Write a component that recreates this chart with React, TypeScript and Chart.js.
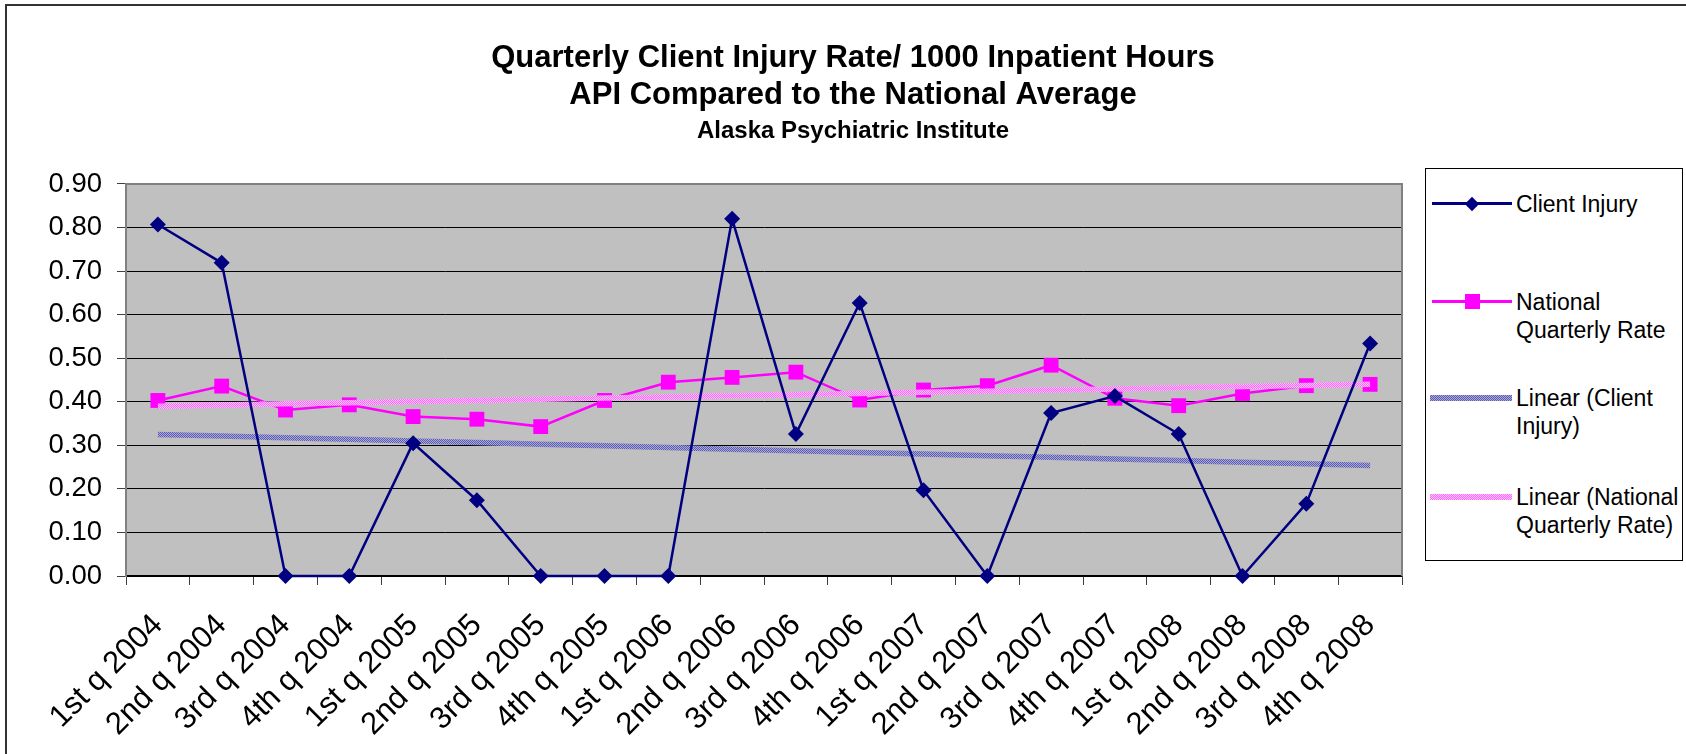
import React, { useEffect, useRef } from 'react';
import { Chart, registerables } from 'chart.js';

Chart.register(...registerables);

const quarters = [
  '1st q 2004', '2nd q 2004', '3rd q 2004', '4th q 2004',
  '1st q 2005', '2nd q 2005', '3rd q 2005', '4th q 2005',
  '1st q 2006', '2nd q 2006', '3rd q 2006', '4th q 2006',
  '1st q 2007', '2nd q 2007', '3rd q 2007', '4th q 2007',
  '1st q 2008', '2nd q 2008', '3rd q 2008', '4th q 2008',
];

const clientInjury = [
  0.807, 0.719, 0.0, 0.0, 0.305, 0.174, 0.0, 0.0, 0.0, 0.82,
  0.326, 0.627, 0.197, 0.0, 0.374, 0.413, 0.326, 0.0, 0.166, 0.534,
];

const nationalRate = [
  0.403, 0.436, 0.381, 0.393, 0.366, 0.36, 0.343, 0.403, 0.445, 0.456,
  0.468, 0.404, 0.427, 0.437, 0.484, 0.408, 0.391, 0.419, 0.437, 0.44,
];

const yTickLabels = ['0.00', '0.10', '0.20', '0.30', '0.40', '0.50', '0.60', '0.70', '0.80', '0.90'];

const seriesNames = [
  'Client Injury',
  'National Quarterly Rate',
  'Linear (Client Injury)',
  'Linear (National Quarterly Rate)',
];

const legendLines = [
  ['Client Injury'],
  ['National', 'Quarterly Rate'],
  ['Linear (Client', 'Injury)'],
  ['Linear (National', 'Quarterly Rate)'],
];

const titleLines = [
  'Quarterly Client Injury Rate/ 1000 Inpatient Hours',
  'API Compared to the National Average',
];
const subtitleText = 'Alaska Psychiatric Institute';

// least-squares linear trend (Excel "Linear" trendline)
function linearTrend(values: number[]): number[] {
  const n = values.length;
  let sx = 0, sy = 0, sxx = 0, sxy = 0;
  values.forEach((y, i) => {
    const x = i + 1;
    sx += x; sy += y; sxx += x * x; sxy += x * y;
  });
  const slope = (n * sxy - sx * sy) / (n * sxx - sx * sx);
  const icpt = (sy - slope * sx) / n;
  return values.map((_, i) => icpt + slope * (i + 1));
}

const FONT = '"Liberation Sans", Arial, Helvetica, sans-serif';

function makePattern(ctx: CanvasRenderingContext2D, c1: string, c2: string) {
  const cv = document.createElement('canvas');
  cv.width = 2;
  cv.height = 2;
  const p = cv.getContext('2d')!;
  p.fillStyle = c1;
  p.fillRect(0, 0, 2, 2);
  p.fillStyle = c2;
  p.fillRect(0, 0, 1, 1);
  p.fillRect(1, 1, 1, 1);
  return ctx.createPattern(cv, 'repeat');
}

const plotFrame = {
  id: 'plotFrame',
  beforeDraw(chart: any) {
    const { ctx, chartArea: a } = chart;
    ctx.save();
    ctx.fillStyle = '#C0C0C0';
    ctx.fillRect(a.left, a.top, a.right - a.left, a.bottom - a.top);
    ctx.restore();
  },
  beforeDatasetsDraw(chart: any) {
    const { ctx, chartArea: a } = chart;
    ctx.save();
    ctx.strokeStyle = '#808080';
    ctx.lineWidth = 2;
    ctx.beginPath();
    ctx.moveTo(a.left, a.bottom);
    ctx.lineTo(a.left, a.top);
    ctx.lineTo(a.right, a.top);
    ctx.lineTo(a.right, a.bottom);
    ctx.stroke();
    ctx.restore();
  },
};

const clientHatch = 'repeating-conic-gradient(#5c5cae 0% 25%, #a9a9da 0% 50%) 0 0 / 2px 2px';
const nationalHatch = 'repeating-conic-gradient(#ff66ff 0% 25%, #ffc4ff 0% 50%) 0 0 / 2px 2px';

function LegendSample({ kind }: { kind: number }) {
  const base: React.CSSProperties = { position: 'absolute', left: 6, width: 80 };
  if (kind === 0) {
    return (
      <>
        <div style={{ ...base, top: -1.25, height: 2.5, background: '#000080' }} />
        <div
          style={{
            position: 'absolute',
            left: 46 - 6,
            top: -6,
            width: 12,
            height: 12,
            background: '#000080',
            transform: 'rotate(45deg) scale(0.84)',
          }}
        />
      </>
    );
  }
  if (kind === 1) {
    return (
      <>
        <div style={{ ...base, top: -1.25, height: 2.5, background: '#FF00FF' }} />
        <div
          style={{
            position: 'absolute',
            left: 46 - 7.5,
            top: -7.5,
            width: 15,
            height: 15,
            background: '#FF00FF',
          }}
        />
      </>
    );
  }
  return (
    <div
      style={{
        ...base,
        left: 4,
        width: 82,
        top: -3,
        height: 6,
        background: kind === 2 ? clientHatch : nationalHatch,
      }}
    />
  );
}

export default function App() {
  const canvasRef = useRef<HTMLCanvasElement | null>(null);

  useEffect(() => {
    const canvas = canvasRef.current!;
    const ctx = canvas.getContext('2d')!;
    const clientPattern = makePattern(ctx, '#a9a9da', '#5c5cae');
    const nationalPattern = makePattern(ctx, '#ffc4ff', '#ff66ff');

    const chart = new Chart(canvas, {
      type: 'line',
      data: {
        labels: quarters,
        datasets: [
          {
            label: seriesNames[0],
            data: clientInjury,
            borderColor: '#000080',
            backgroundColor: '#000080',
            borderWidth: 2.5,
            pointStyle: 'rectRot',
            pointRadius: 8,
            pointBorderWidth: 0,
            pointBackgroundColor: '#000080',
            tension: 0,
            clip: false,
            order: 0,
          },
          {
            label: seriesNames[1],
            data: nationalRate,
            borderColor: '#FF00FF',
            backgroundColor: '#FF00FF',
            borderWidth: 2.5,
            pointStyle: 'rect',
            pointRadius: 10.5,
            pointBorderWidth: 0,
            pointBackgroundColor: '#FF00FF',
            tension: 0,
            clip: false,
            order: 2,
          },
          {
            label: seriesNames[2],
            data: linearTrend(clientInjury),
            borderColor: clientPattern as any,
            borderWidth: 5.5,
            pointRadius: 0,
            tension: 0,
            order: 3,
          },
          {
            label: seriesNames[3],
            data: linearTrend(nationalRate),
            borderColor: nationalPattern as any,
            borderWidth: 5.5,
            pointRadius: 0,
            tension: 0,
            order: 1,
          },
        ],
      },
      options: {
        responsive: false,
        animation: false,
        devicePixelRatio: 1,
        events: [],
        layout: { padding: { left: 20, right: 0, top: 0, bottom: 0 } },
        plugins: {
          legend: { display: false },
          tooltip: { enabled: false },
          title: {
            display: true,
            text: titleLines,
            color: '#000',
            font: { family: FONT, size: 31, weight: 'bold', lineHeight: 1.2 },
            padding: { top: 39.4, bottom: 0 },
          },
          subtitle: {
            display: true,
            text: subtitleText,
            color: '#000',
            font: { family: FONT, size: 24, weight: 'bold', lineHeight: 1.2 },
            padding: { top: 3, bottom: 38.4 },
          },
        },
        scales: {
          x: {
            type: 'category',
            offset: true,
            grid: {
              display: true,
              drawOnChartArea: false,
              drawTicks: true,
              tickLength: 9,
              offset: true,
              color: '#404040',
              tickColor: '#404040',
              lineWidth: 1,
            },
            border: { display: true, color: '#000', width: 1.5 },
            ticks: {
              autoSkip: false,
              minRotation: 45,
              maxRotation: 45,
              padding: 22,
              color: '#000',
              font: { family: FONT, size: 31, lineHeight: 1.2 },
            },
            afterFit(scale: any) {
              scale.height = 178;
            },
          },
          y: {
            min: 0,
            max: 0.9,
            grid: {
              color: '#000',
              tickColor: '#404040',
              lineWidth: 1,
              tickLength: 9,
              drawTicks: true,
            },
            border: { display: true, color: '#808080', width: 2 },
            ticks: {
              stepSize: 0.1,
              padding: 15,
              color: '#000',
              font: { family: FONT, size: 27.5 },
              callback: (v: any, i: number) => yTickLabels[i] ?? Number(v).toFixed(2),
            },
            afterFit(scale: any) {
              scale.width = 106;
            },
          },
          yPad: {
            position: 'right',
            display: true,
            grid: { display: false, drawTicks: false },
            border: { display: false },
            ticks: { display: false },
            afterFit(scale: any) {
              scale.width = 284;
            },
          },
        },
      },
      plugins: [plotFrame],
    } as any);

    return () => chart.destroy();
  }, []);

  const rowY = [204, 302, 398, 497];

  return (
    <div
      style={{
        position: 'absolute',
        left: 0,
        top: 0,
        width: 1686,
        height: 754,
        overflow: 'hidden',
        background: '#fff',
        fontFamily: FONT,
      }}
    >
      <canvas ref={canvasRef} width={1686} height={754} style={{ position: 'absolute', left: 0, top: 0 }} />
      <div
        style={{
          position: 'absolute',
          left: 5,
          top: 4,
          width: 1760,
          height: 800,
          borderLeft: '2px solid #333',
          borderTop: '2px solid #333',
          pointerEvents: 'none',
        }}
      />
      <div
        style={{
          position: 'absolute',
          left: 1425,
          top: 168,
          width: 256,
          height: 391,
          border: '1.5px solid #000',
          background: '#fff',
        }}
      >
        {legendLines.map((lines, i) => (
          <div key={i} style={{ position: 'absolute', left: 0, top: rowY[i] - 168 - 1.5, width: 0, height: 0 }}>
            <LegendSample kind={i} />
            <div
              style={{
                position: 'absolute',
                left: 90,
                top: -14,
                fontSize: 23,
                lineHeight: '28px',
                whiteSpace: 'pre',
                color: '#000',
              }}
            >
              {lines.map((t, j) => (
                <div key={j}>{t}</div>
              ))}
            </div>
          </div>
        ))}
      </div>
    </div>
  );
}
